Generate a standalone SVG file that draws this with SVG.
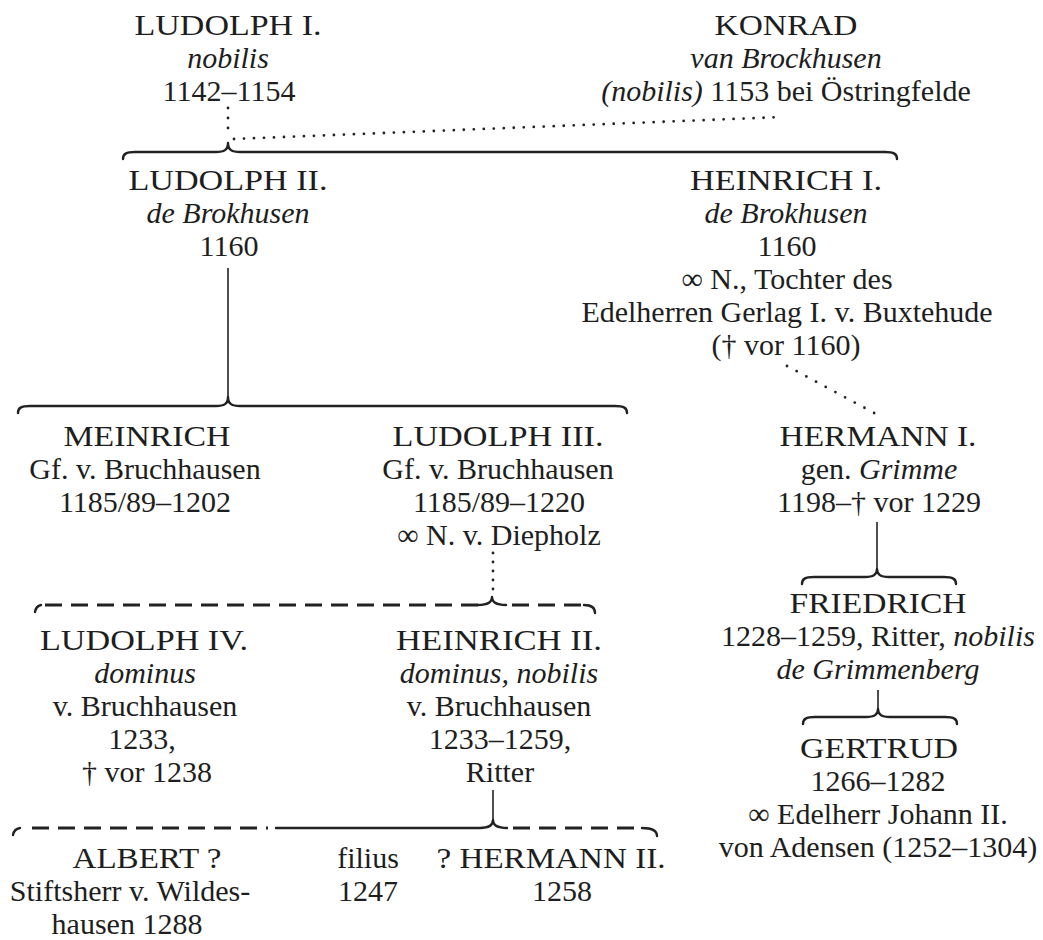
<svg xmlns="http://www.w3.org/2000/svg" width="1043" height="940" viewBox="0 0 1043 940">
<style>
text{font-family:"Liberation Serif","Times New Roman",serif;font-size:30px;fill:#1e1e1e;text-anchor:middle}
.i{font-style:italic}
.br{fill:none;stroke:#222;stroke-width:2.4;stroke-linecap:round;stroke-linejoin:round}
.ln{fill:none;stroke:#222;stroke-width:1.6}
.ds{fill:none;stroke:#222;stroke-width:3;stroke-dasharray:17 9}
.dt{fill:none;stroke:#222;stroke-width:2.8;stroke-linecap:round;stroke-dasharray:0 10}
</style>
<rect width="1043" height="940" fill="#fff"/>
<g id="connectors">
  <path class="dt" d="M228,108 L228,138"/>
  <path class="dt" d="M234,139 L782,117"/>
  <path class="br" d="M123,159 C123,154 126,152 135,152 L216,152 C224,152 228,150 228,143 C228,150 232,152 240,152 L885,152 C894,152 897,154 897,159"/>
  <path class="ln" d="M228,268 L228,398"/>
  <path class="br" d="M18,413 C18,408 21,406 30,406 L216,406 C224,406 228,404 228,397 C228,404 232,406 240,406 L615,406 C624,406 627,408 627,413"/>
  <path class="dt" style="stroke-dasharray:0 11" d="M787,366 L876,414"/>
  <path class="ln" d="M877,522 L877,569"/>
  <path class="br" d="M802,584 C802,579 805,577 814,577 L865,577 C873,577 877,575 877,569 C877,575 881,577 889,577 L944,577 C953,577 956,579 956,584"/>
  <path class="ln" d="M878,690 L878,709"/>
  <path class="br" d="M803,724 C803,719 806,717 815,717 L866,717 C874,717 878,715 878,709 C878,715 882,717 890,717 L945,717 C954,717 957,719 957,724"/>
  <path class="dt" style="stroke-dasharray:0 9" d="M493,553 L493,596"/>
  <path class="br" d="M35,612 Q36,606 41,605"/>
  <path class="ds" d="M45,605 L478,605"/>
  <path class="br" d="M478,605 C487,605 492,603 492,597 C492,603 497,605 506,605"/>
  <path class="ds" d="M512,605 L582,605"/>
  <path class="br" d="M584,605 C591,605 595,608 595,613"/>
  <path class="ln" d="M493,790 L493,820"/>
  <path class="br" d="M13,835 Q14,829 20,828"/>
  <path class="ds" d="M32,828 L268,828"/>
  <path class="br" d="M276,828 L480,828 C488,828 493,826 493,820 C493,826 498,828 507,828"/>
  <path class="ds" d="M513,828 L640,828"/>
  <path class="br" d="M642,828 C652,828 657,831 657,836"/>
</g>
<g id="n-ludolph1">
  <text x="228" y="35" textLength="187" lengthAdjust="spacingAndGlyphs">LUDOLPH I.</text>
  <text x="228" y="68" class="i">nobilis</text>
  <text x="229" y="101">1142–1154</text>
</g>
<g id="n-konrad">
  <text x="786" y="35" textLength="143" lengthAdjust="spacingAndGlyphs">KONRAD</text>
  <text x="786" y="68" class="i">van Brockhusen</text>
  <text x="786" y="101"><tspan class="i">(nobilis)</tspan> 1153 bei Östringfelde</text>
</g>
<g id="n-ludolph2">
  <text x="228" y="190" textLength="199" lengthAdjust="spacingAndGlyphs">LUDOLPH II.</text>
  <text x="228" y="223" class="i">de Brokhusen</text>
  <text x="229" y="256">1160</text>
</g>
<g id="n-heinrich1">
  <text x="786" y="190" textLength="192" lengthAdjust="spacingAndGlyphs">HEINRICH I.</text>
  <text x="786" y="223" class="i">de Brokhusen</text>
  <text x="787" y="256">1160</text>
  <text x="787" y="289">∞ N., Tochter des</text>
  <text x="787" y="322">Edelherren Gerlag I. v. Buxtehude</text>
  <text x="786" y="355">(† vor 1160)</text>
</g>
<g id="n-meinrich">
  <text x="147" y="446" textLength="167" lengthAdjust="spacingAndGlyphs">MEINRICH</text>
  <text x="145" y="479">Gf. v. Bruchhausen</text>
  <text x="145" y="512">1185/89–1202</text>
</g>
<g id="n-ludolph3">
  <text x="498" y="446" textLength="211" lengthAdjust="spacingAndGlyphs">LUDOLPH III.</text>
  <text x="498" y="479">Gf. v. Bruchhausen</text>
  <text x="499" y="512">1185/89–1220</text>
  <text x="499" y="545">∞ N. v. Diepholz</text>
</g>
<g id="n-hermann1">
  <text x="878" y="446" textLength="197" lengthAdjust="spacingAndGlyphs">HERMANN I.</text>
  <text x="879" y="479">gen. <tspan class="i">Grimme</tspan></text>
  <text x="879" y="512">1198–† vor 1229</text>
</g>
<g id="n-friedrich">
  <text x="878" y="613" textLength="177" lengthAdjust="spacingAndGlyphs">FRIEDRICH</text>
  <text x="878" y="646">1228–1259, Ritter, <tspan class="i">nobilis</tspan></text>
  <text x="878" y="679" class="i">de Grimmenberg</text>
</g>
<g id="n-gertrud">
  <text x="879" y="758" textLength="158" lengthAdjust="spacingAndGlyphs">GERTRUD</text>
  <text x="878" y="791">1266–1282</text>
  <text x="878" y="824">∞ Edelherr Johann II.</text>
  <text x="878" y="857">von Adensen (1252–1304)</text>
</g>
<g id="n-ludolph4">
  <text x="144" y="650" textLength="208" lengthAdjust="spacingAndGlyphs">LUDOLPH IV.</text>
  <text x="145" y="683" class="i">dominus</text>
  <text x="145" y="716">v. Bruchhausen</text>
  <text x="142" y="749">1233,</text>
  <text x="147" y="782">† vor 1238</text>
</g>
<g id="n-heinrich2">
  <text x="499" y="650" textLength="206" lengthAdjust="spacingAndGlyphs">HEINRICH II.</text>
  <text x="499" y="683" class="i">dominus, nobilis</text>
  <text x="499" y="716">v. Bruchhausen</text>
  <text x="500" y="749">1233–1259,</text>
  <text x="500" y="782">Ritter</text>
</g>
<g id="n-albert">
  <text x="147" y="868" textLength="149" lengthAdjust="spacingAndGlyphs">ALBERT ?</text>
  <text x="130" y="901">Stiftsherr v. Wildes-</text>
  <text x="127" y="934">hausen 1288</text>
</g>
<g id="n-filius">
  <text x="368" y="868">filius</text>
  <text x="368" y="901">1247</text>
</g>
<g id="n-hermann2">
  <text x="551" y="868" textLength="229" lengthAdjust="spacingAndGlyphs">? HERMANN II.</text>
  <text x="562" y="901">1258</text>
</g>
</svg>
